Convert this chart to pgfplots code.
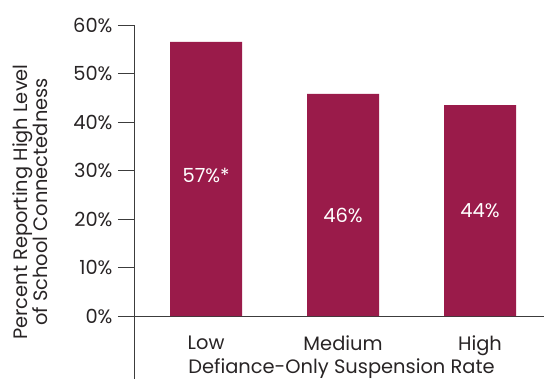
\documentclass[border=0pt]{standalone}
\usepackage{pgfplots}
\pgfplotsset{compat=1.18}
\usepackage{fontspec}
\setmainfont{Poppins}
\definecolor{barc}{RGB}{154,27,74}
\definecolor{txt}{RGB}{40,36,37}
\definecolor{axc}{RGB}{60,60,60}
\newcommand{\fs}{\fontsize{19.5}{20.5}\selectfont}
\begin{document}
\begin{tikzpicture}[x=1bp,y=1bp]
\begin{axis}[
  at={(0,0)}, anchor=south west,
  scale only axis, width=410bp, height=291bp,
  xmin=-0.526, xmax=2.467, ymin=0, ymax=60,
  axis y line*=left, axis x line*=bottom,
  axis line style={axc, line width=0.8pt, -},
  ytick={0,10,...,60},
  yticklabel={\pgfmathprintnumber{\tick}\%},
  xtick={0,1,2}, xticklabels={Low,Medium,High},
  tick align=outside, major tick length=16bp,
  major y tick style={axc, line width=0.8pt},
  major x tick style={draw=none},
  every tick label/.append style={font=\fs, text=txt},
  yticklabel style={xshift=-2bp},
  xticklabel style={yshift=0bp},
  /pgf/number format/assume math mode=true,
  ybar, bar width=72bp,
  clip=false,
]
\addplot[fill=barc, draw=none] coordinates {(0,56.5) (1,45.8) (2,43.5)};
\node[text=white, font=\fs] at (axis cs:0,29.0) {57\%*};
\node[text=white, font=\fs] at (axis cs:1,20.7) {46\%};
\node[text=white, font=\fs] at (axis cs:2,21.75) {44\%};
\end{axis}
\draw[axc, line width=0.8pt] (0,0) -- (0,-63);
\node[font=\fs, text=txt, anchor=base] at (207.5,-57.5) {Defiance-Only Suspension Rate};
\node[font=\fs, text=txt, rotate=90, align=center, inner sep=0pt] at (-104,114) {Percent Reporting High Level\\of School Connectedness};
\pgfresetboundingbox
\path[use as bounding box] (-134,-63) rectangle (410,316);
\end{tikzpicture}
\end{document}
